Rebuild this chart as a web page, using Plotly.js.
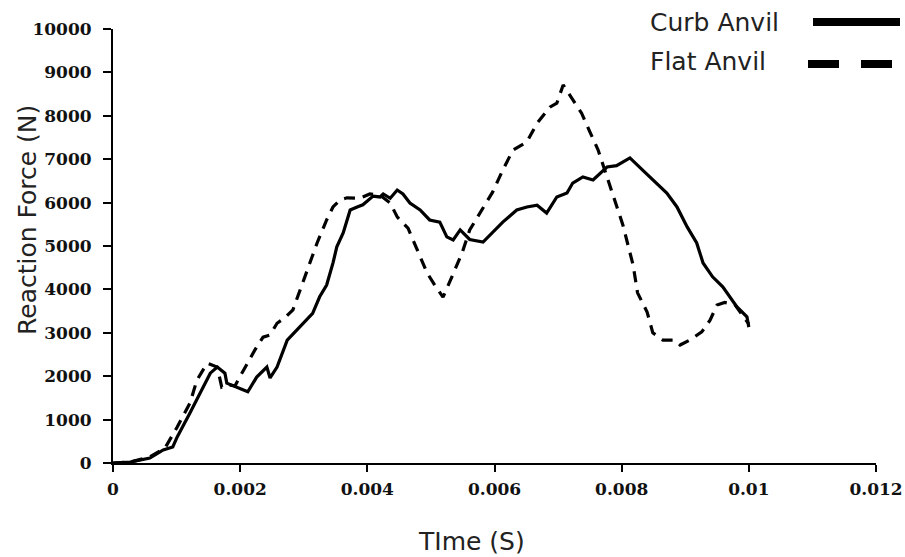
<!DOCTYPE html>
<html>
<head>
<meta charset="utf-8">
<script src="https://cdn.plot.ly/plotly-3.0.1.min.js"></script>
<style>html,body{margin:0;padding:0;background:#fff;}#chart{width:905px;height:557px;}</style>
</head>
<body>
<div id="chart"></div>
<script>
// ---- data ----
const seriesNames = ['Curb Anvil', 'Flat Anvil'];

const curbTime = [0, 0.00027, 0.00058, 0.00079, 0.00094, 0.00101, 0.00121, 0.00137, 0.00153, 0.00164,
  0.00176, 0.00179, 0.00195, 0.00212, 0.00226, 0.00242, 0.00247, 0.00258, 0.00274, 0.00294,
  0.00314, 0.00325, 0.00336, 0.00346, 0.00352, 0.00362, 0.00368, 0.00373, 0.00384, 0.00393,
  0.00409, 0.00420, 0.00425, 0.00436, 0.00447, 0.00456, 0.00467, 0.00483, 0.00498, 0.00514,
  0.00525, 0.00535, 0.00546, 0.00561, 0.00582, 0.00597, 0.00613, 0.00635, 0.00651, 0.00667,
  0.00682, 0.00698, 0.00714, 0.00723, 0.00739, 0.00755, 0.00777, 0.00792, 0.00813, 0.00833,
  0.00855, 0.00871, 0.00887, 0.00903, 0.00918, 0.00928, 0.00943, 0.00959, 0.00981, 0.00997, 0.01];
const curbForce = [0, 20, 115, 300, 370, 600, 1150, 1610, 2070, 2210,
  2070, 1840, 1750, 1640, 1980, 2210, 1960, 2210, 2830, 3130,
  3450, 3830, 4100, 4610, 4980, 5300, 5600, 5830, 5900, 5950,
  6150, 6130, 6200, 6100, 6290, 6200, 5990, 5830, 5600, 5550,
  5210, 5140, 5370, 5150, 5090, 5320, 5550, 5830, 5900, 5940,
  5760, 6130, 6220, 6450, 6590, 6520, 6820, 6850, 7030, 6750,
  6450, 6220, 5900, 5440, 5070, 4610, 4290, 4060, 3600, 3370, 3130];

const flatTime = [0, 0.00027, 0.00058, 0.00082, 0.00101, 0.00121, 0.00132, 0.00148, 0.00164, 0.00171,
  0.00181, 0.00192, 0.00200, 0.00211, 0.00223, 0.00236, 0.00247, 0.00258, 0.00270, 0.00283,
  0.00294, 0.00305, 0.00321, 0.00336, 0.00346, 0.00357, 0.00368, 0.00388, 0.00404, 0.00420,
  0.00436, 0.00447, 0.00464, 0.00480, 0.00494, 0.00506, 0.00519, 0.00533, 0.00549, 0.00561,
  0.00577, 0.00597, 0.00613, 0.00629, 0.00651, 0.00667, 0.00687, 0.00698, 0.00708, 0.00723,
  0.00737, 0.00750, 0.00763, 0.00777, 0.00789, 0.00802, 0.00818, 0.00825, 0.00840, 0.00849,
  0.00865, 0.00884, 0.00892, 0.00907, 0.00926, 0.00939, 0.00950, 0.00962, 0.00978, 0.01];
const flatForce = [0, 20, 140, 350, 830, 1380, 1910, 2300, 2210, 1750,
  1800, 1780, 2000, 2300, 2600, 2900, 2950, 3220, 3340, 3530,
  3990, 4450, 5070, 5600, 5900, 6060, 6110, 6100, 6200, 6170,
  5990, 5670, 5410, 4860, 4380, 4100, 3820, 4290, 4840, 5370,
  5760, 6240, 6750, 7210, 7400, 7830, 8200, 8290, 8710, 8360,
  8060, 7630, 7210, 6590, 6060, 5480, 4560, 3920, 3480, 3000,
  2830, 2830, 2720, 2830, 3020, 3290, 3640, 3700, 3650, 3200];

const xTickVals = [0, 0.002, 0.004, 0.006, 0.008, 0.01, 0.012];
const xTickText = ['0', '0.002', '0.004', '0.006', '0.008', '0.01', '0.012'];
const yTickVals = [0, 1000, 2000, 3000, 4000, 5000, 6000, 7000, 8000, 9000, 10000];
const yTickText = ['0', '1000', '2000', '3000', '4000', '5000', '6000', '7000', '8000', '9000', '10000'];
const xTitle = 'TIme (S)';
const yTitle = 'Reaction Force (N)';

// ---- layout helpers (pixel -> paper) ----
const W = 905, H = 557;
const M = {l: 113, r: 29, t: 29, b: 94};
const PW = W - M.l - M.r, PH = H - M.t - M.b;
const px = x => (x - M.l) / PW;
const py = y => (H - M.b - y) / PH;

const traces = [
  {x: curbTime, y: curbForce, name: seriesNames[0], mode: 'lines', type: 'scatter',
   line: {color: '#000', width: 3.2, dash: 'solid'}, showlegend: false},
  {x: flatTime, y: flatForce, name: seriesNames[1], mode: 'lines', type: 'scatter',
   line: {color: '#000', width: 3.2, dash: '11px,8px'}, showlegend: false}
];

const tickFont = {family: '"DejaVu Serif", serif', size: 17, color: '#111', weight: 'bold'};
const titleFont = {family: '"DejaVu Sans", sans-serif', size: 25, color: '#222'};

const layout = {
  width: W, height: H,
  margin: M,
  paper_bgcolor: '#fff', plot_bgcolor: '#fff',
  showlegend: false,
  xaxis: {
    range: [0, 0.012], tickvals: xTickVals, ticktext: xTickText,
    showline: true, linecolor: '#000', linewidth: 2,
    ticks: 'outside', ticklen: 7, tickwidth: 2, tickcolor: '#000',
    ticklabelstandoff: 3,
    showgrid: false, zeroline: false, tickfont: tickFont
  },
  yaxis: {
    range: [0, 10000], tickvals: yTickVals, ticktext: yTickText,
    showline: true, linecolor: '#000', linewidth: 2,
    ticks: 'outside', ticklen: 8, tickwidth: 2, tickcolor: '#000',
    ticklabelstandoff: 8,
    showgrid: false, zeroline: false, tickfont: tickFont
  },
  annotations: [
    {text: xTitle, xref: 'paper', yref: 'paper', x: px(471), y: py(541),
     xanchor: 'center', yanchor: 'middle', showarrow: false, font: titleFont},
    {text: yTitle, xref: 'paper', yref: 'paper', x: px(27), y: py(220),
     xanchor: 'center', yanchor: 'middle', showarrow: false, textangle: -90, font: titleFont},
    {text: seriesNames[0], xref: 'paper', yref: 'paper', x: px(648), y: py(22),
     xanchor: 'left', yanchor: 'middle', showarrow: false, font: titleFont},
    {text: seriesNames[1], xref: 'paper', yref: 'paper', x: px(648), y: py(62),
     xanchor: 'left', yanchor: 'middle', showarrow: false, font: titleFont}
  ],
  shapes: [
    {type: 'line', xref: 'paper', yref: 'paper', x0: px(813), x1: px(900), y0: py(22), y1: py(22),
     line: {color: '#000', width: 8, dash: 'solid'}},
    {type: 'line', xref: 'paper', yref: 'paper', x0: px(808), x1: px(892), y0: py(64), y1: py(64),
     line: {color: '#000', width: 8, dash: '31px,22px'}}
  ]
};

Plotly.newPlot('chart', traces, layout, {displayModeBar: false, staticPlot: true});
</script>
</body>
</html>
